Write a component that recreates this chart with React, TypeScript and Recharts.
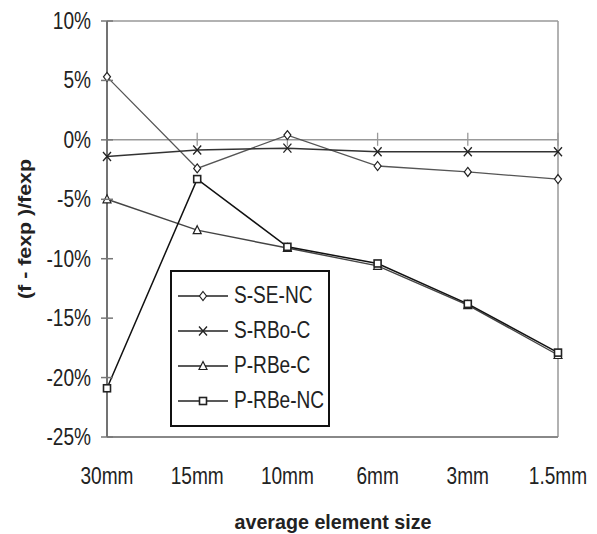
import React from 'react';
import { LineChart, Line, XAxis, YAxis, ReferenceLine, Legend } from 'recharts';

const categories = ['30mm', '15mm', '10mm', '6mm', '3mm', '1.5mm'];
const sSeNc = [5.3, -2.4, 0.4, -2.2, -2.7, -3.3];
const sRboC = [-1.4, -0.85, -0.7, -1.0, -1.0, -1.0];
const pRbeC = [-5.0, -7.6, -9.1, -10.6, -13.9, -18.1];
const pRbeNc = [-20.9, -3.3, -9.0, -10.4, -13.8, -17.9];
const yTicks = [-25, -20, -15, -10, -5, 0, 5, 10];

const seriesNames = ['S-SE-NC', 'S-RBo-C', 'P-RBe-C', 'P-RBe-NC'];

const data = categories.map((c, i) => ({
  cat: c,
  a: sSeNc[i],
  b: sRboC[i],
  c: pRbeC[i],
  d: pRbeNc[i],
}));

const FONT = "'Liberation Sans', Arial, sans-serif";
const SX = 0.83;
const FS = 23;

type Shape = 'diamond' | 'x' | 'triangle' | 'square';

const markerEl = (shape: Shape, cx: number, cy: number, key?: any, stroke = '#222') => {
  const common = { key, fill: 'white', stroke, strokeWidth: 1.2 } as any;
  if (shape === 'diamond') {
    return <path {...common} d={`M${cx},${cy - 4.5}L${cx + 3.5},${cy}L${cx},${cy + 4.5}L${cx - 3.5},${cy}Z`} />;
  }
  if (shape === 'triangle') {
    return <path {...common} d={`M${cx},${cy - 4.5}L${cx + 4},${cy + 3.5}L${cx - 4},${cy + 3.5}Z`} />;
  }
  if (shape === 'square') {
    return <rect {...common} x={cx - 3.5} y={cy - 3.5} width={7} height={7} strokeWidth={1.6} />;
  }
  return (
    <path key={key} fill="none" stroke={stroke} strokeWidth={1.3}
      d={`M${cx - 4},${cy - 4.5}L${cx + 4},${cy + 4.5}M${cx + 4},${cy - 4.5}L${cx - 4},${cy + 4.5}`} />
  );
};

const dotFn = (shape: Shape) => (props: any) => {
  const { cx, cy, index } = props;
  if (cx == null || cy == null) return <g key={index} />;
  return markerEl(shape, cx, cy, index);
};

const shapes: Shape[] = ['diamond', 'x', 'triangle', 'square'];

const YTick = (props: any) => {
  const { x, y, payload } = props;
  return (
    <g>
      <line x1={x + 10} x2={x + 22} y1={y} y2={y} stroke="#777" strokeWidth={1.5} />
      <text transform={`translate(${x},${y + 8}) scale(${SX},1)`} textAnchor="end"
        fontFamily={FONT} fontSize={FS} fill="#222">
        {`${payload.value}%`}
      </text>
    </g>
  );
};

const XTick = (props: any) => {
  const { x, y, payload } = props;
  return (
    <text transform={`translate(${x},${y + 17}) scale(${SX},1)`} textAnchor="middle"
      fontFamily={FONT} fontSize={FS} fill="#222">
      {payload.value}
    </text>
  );
};

const LegendBox = () => (
  <div style={{
    width: 160, height: 157, border: '2px solid #111', background: 'white',
    boxSizing: 'border-box', fontFamily: FONT, fontSize: FS, color: '#222',
    paddingTop: 6,
  }}>
    {seriesNames.map((n, i) => (
      <div key={n} style={{ display: 'flex', alignItems: 'center', height: 35, whiteSpace: 'nowrap' }}>
        <svg width={56} height={20} style={{ marginLeft: 6, flex: 'none' }}>
          <line x1={0} x2={50} y1={10} y2={10} stroke="#222" strokeWidth={1.3} />
          {markerEl(shapes[i], 25, 10)}
        </svg>
        <span style={{ display: 'inline-block', transform: `scaleX(${SX})`, transformOrigin: 'left center' }}>{n}</span>
      </div>
    ))}
  </div>
);

export default function App() {
  return (
    <div style={{ position: 'absolute', left: 0, top: 0, background: 'white' }}>
      <LineChart width={597} height={534} data={data}
        margin={{ top: 21, right: 39, left: 7, bottom: 37 }}>
        <XAxis dataKey="cat" height={60} tickLine={false} tickSize={0} tickMargin={30} interval={0}
          axisLine={{ stroke: '#888', strokeWidth: 2 }}
          tick={<XTick />}
          label={{
            content: (p: any) => {
              const vb = p.viewBox;
              return (
                <text x={vb.x + vb.width / 2 - 98} y={vb.y + 92} textLength={197} lengthAdjust="spacingAndGlyphs"
                  fontFamily={FONT} fontWeight="bold" fontSize={21} fill="#222">
                  average element size
                </text>
              );
            },
          }} />
        <YAxis type="number" domain={[-25, 10]} ticks={yTicks} width={100}
          tickLine={false} tickSize={6} tickMargin={10}
          axisLine={{ stroke: '#444', strokeWidth: 1.5 }}
          tick={<YTick />}
          label={{
            content: (p: any) => {
              const vb = p.viewBox;
              const x = vb.x + 24;
              const y = vb.y + vb.height / 2;
              return (
                <text transform={`translate(${x},${y}) rotate(-90)`} x={-70} y={0}
                  textLength={140} lengthAdjust="spacingAndGlyphs"
                  fontFamily={FONT} fontWeight="bold" fontSize={18} fill="#222">
                  (f - fexp )/fexp
                </text>
              );
            },
          }} />
        <ReferenceLine y={10} stroke="#999" strokeWidth={1.5} />
        <ReferenceLine x={categories[categories.length - 1]} stroke="#999" strokeWidth={1.5} />
        <ReferenceLine y={0} stroke="#999" strokeWidth={1.5} />
        {categories.slice(1).map((c) => (
          <ReferenceLine key={c} segment={[{ x: c, y: 0.6 }, { x: c, y: -0.5 }]} stroke="#999" strokeWidth={1.3} />
        ))}
        <Legend layout="vertical" verticalAlign="middle" align="center" content={<LegendBox />}
          wrapperStyle={{ left: 170, top: 270, width: 160, height: 157 }} />
        <Line dataKey="a" name={seriesNames[0]} stroke="#555" strokeWidth={1.3} dot={dotFn('diamond')} isAnimationActive={false} />
        <Line dataKey="b" name={seriesNames[1]} stroke="#333" strokeWidth={1.5} dot={dotFn('x')} isAnimationActive={false} />
        <Line dataKey="c" name={seriesNames[2]} stroke="#444" strokeWidth={1.4} dot={dotFn('triangle')} isAnimationActive={false} />
        <Line dataKey="d" name={seriesNames[3]} stroke="#111" strokeWidth={1.5} dot={dotFn('square')} isAnimationActive={false} />
      </LineChart>
    </div>
  );
}
